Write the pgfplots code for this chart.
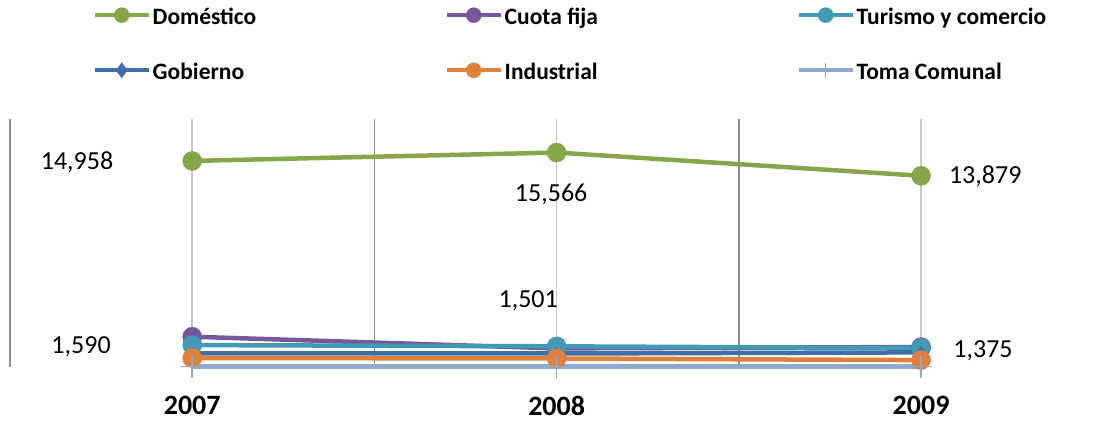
\documentclass[border=0pt]{standalone}
\usepackage{pgfplots}
\pgfplotsset{compat=1.18}
\usepackage{fontspec}
\setmainfont{Carlito}
\definecolor{cdom}{RGB}{134,166,74}
\definecolor{ccuo}{RGB}{117,89,153}
\definecolor{ctur}{RGB}{66,154,180}
\definecolor{cgob}{RGB}{63,111,168}
\definecolor{cind}{RGB}{224,128,58}
\definecolor{ctom}{RGB}{143,169,207}
\begin{document}
\begin{tikzpicture}
\useasboundingbox (0,0) rectangle (1096pt,421pt);
\begin{axis}[
  at={(10pt,54pt)}, anchor=south west,
  scale only axis, width=1086pt, height=248pt,
  xmin=-0.5, xmax=2.48, ymin=0, ymax=18000,
  xtick={0,1,2}, xticklabels={\textbf{2007},\textbf{2008},\textbf{2009}},
  ytick=\empty,
  major tick length=0pt,
  axis line style={draw=none},
  xmajorgrids, major grid style={color=black!22, line width=1.5pt},
  extra x ticks={-0.5,0.5,1.5}, extra x tick labels={},
  extra x tick style={grid=major, major grid style={color=black!45, line width=1.5pt}},
  xticklabel style={font=\fontsize{28}{32}\selectfont\bfseries, yshift=-26pt},
  clip=false,
  legend columns=3,
  legend style={at={(0.076,1.47)}, anchor=north west, draw=none, fill=none,
    font=\fontsize{23.5}{28}\selectfont\bfseries, row sep=30pt, inner sep=0pt},
  legend cell align=left,
  legend image code/.code={\draw[mark repeat=2,mark phase=2,#1] plot coordinates {(0pt,0pt) (27pt,0pt) (54pt,0pt)};},
  legend image post style={mark size=7.5pt, line width=4pt},
]
\addplot[color=cdom, line width=4.5pt, mark=*, mark size=9.5pt, mark options={solid, line width=0.5pt}]
  coordinates {(0,14958) (1,15566) (2,13879)};
\addlegendentry{\makebox[290pt][l]{\strut Doméstico}}
\addplot[color=ccuo, line width=4.5pt, mark=*, mark size=9.5pt, mark options={solid, line width=0.5pt}]
  coordinates {(0,2200) (1,1350) (2,1450)};
\addlegendentry{\makebox[290pt][l]{\strut Cuota fija}}
\addplot[color=ctur, line width=4.5pt, mark=*, mark size=9.5pt, mark options={solid, line width=0.5pt}]
  coordinates {(0,1590) (1,1501) (2,1375)};
\addlegendentry{\makebox[240pt][l]{\strut Turismo y comercio}}
\addplot[color=cgob, line width=4.5pt, mark=diamond*, mark size=6pt, mark options={solid, line width=0.5pt}]
  coordinates {(0,990) (1,980) (2,1060)};
\addlegendentry{\makebox[290pt][l]{\strut Gobierno}}
\addplot[color=cind, line width=4.5pt, mark=*, mark size=9.5pt, mark options={solid, line width=0.5pt}]
  coordinates {(0,650) (1,620) (2,500)};
\addlegendentry{\makebox[290pt][l]{\strut Industrial}}
\addplot[color=ctom, line width=4.5pt, mark=+, mark size=11pt, mark options={solid, line width=1.5pt}]
  coordinates {(0,20) (1,20) (2,20)};
\addlegendentry{\makebox[240pt][l]{\strut Toma Comunal}}
\node[font=\fontsize{26}{30}\selectfont] at (axis cs:-0.316,14879) {14,958};
\node[font=\fontsize{26}{30}\selectfont] at (axis cs:0.985,12556) {15,566};
\node[font=\fontsize{26}{30}\selectfont] at (axis cs:2.176,13863) {13,879};
\node[font=\fontsize{26}{30}\selectfont] at (axis cs:-0.305,1452) {1,590};
\node[font=\fontsize{26}{30}\selectfont] at (axis cs:0.922,4790) {1,501};
\node[font=\fontsize{26}{30}\selectfont] at (axis cs:2.170,1161) {1,375};
\end{axis}
\end{tikzpicture}
\end{document}
